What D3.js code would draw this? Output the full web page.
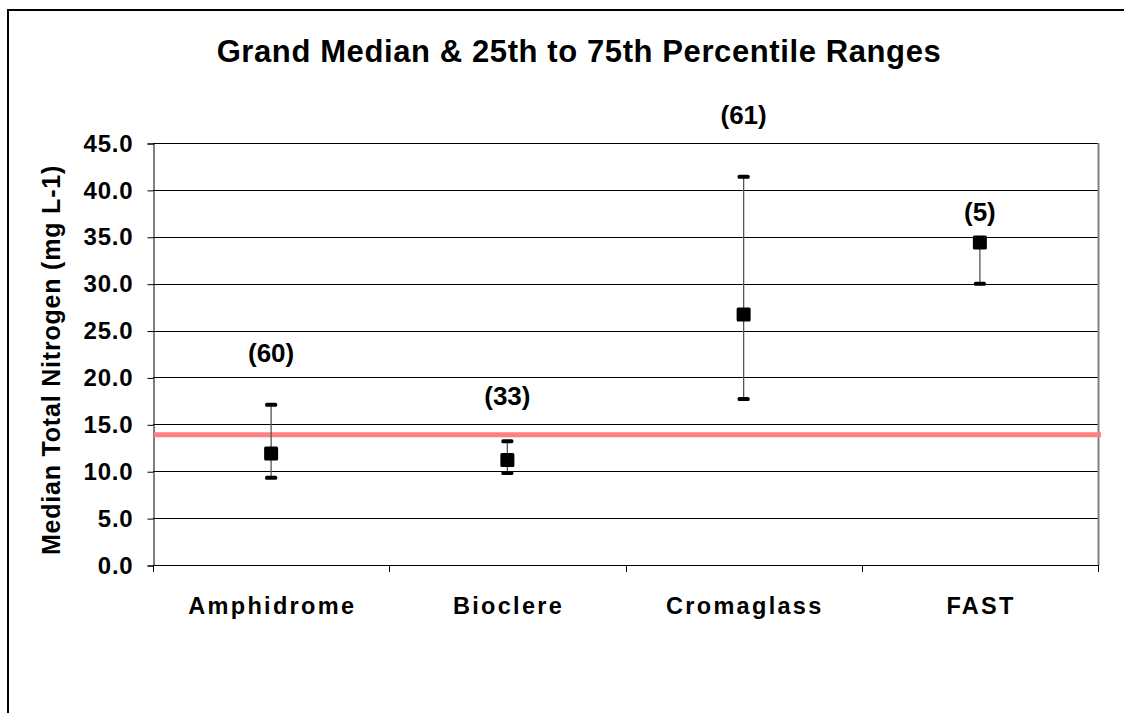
<!DOCTYPE html>
<html>
<head>
<meta charset="utf-8">
<script src="https://cdn.jsdelivr.net/npm/d3@7"></script>
<style>
  body { margin: 0; background: #fff; }
  svg { display: block; font-family: "Liberation Sans", Arial, sans-serif; }
</style>
</head>
<body>
<svg id="chart" width="1124" height="713"></svg>
<script>
// ---- data ----
const categories = ["Amphidrome", "Bioclere", "Cromaglass", "FAST"];
const medians    = [11.9, 11.2, 26.7, 34.4];
const p25        = [9.3, 9.8, 17.7, 30.0];
const p75        = [17.1, 13.2, 41.4, 34.6];
const counts     = ["(60)", "(33)", "(61)", "(5)"];
const countLabelY = [21.7, 17.1, 47.0, 36.7];
const yTicks     = [0, 5, 10, 15, 20, 25, 30, 35, 40, 45];
const referenceLine = 13.9;
const title = "Grand Median & 25th to 75th Percentile Ranges";
const yTitle = "Median Total Nitrogen (mg L-1)";

// ---- layout ----
const W = 1124, H = 713;
const plot = { left: 153, right: 1098, top: 143, bottom: 565 };

const svg = d3.select("#chart");

// chart border
svg.append("rect")
  .attr("x", 8).attr("y", 10)
  .attr("width", W + 20).attr("height", H + 20)
  .attr("fill", "#fff").attr("stroke", "#000").attr("stroke-width", 2);

const x = d3.scaleBand().domain(categories).range([plot.left, plot.right]).padding(0);
const y = d3.scaleLinear().domain([0, 45]).range([plot.bottom, plot.top]);

// gridlines
svg.append("g")
  .selectAll("line").data(yTicks.filter(d => d > 0)).join("line")
  .attr("x1", plot.left).attr("x2", plot.right)
  .attr("y1", d => Math.round(y(d)) + 0.5).attr("y2", d => Math.round(y(d)) + 0.5)
  .attr("stroke", "#000").attr("stroke-width", 1);

// right plot border
svg.append("line")
  .attr("x1", plot.right + 0.5).attr("x2", plot.right + 0.5)
  .attr("y1", plot.top).attr("y2", plot.bottom)
  .attr("stroke", "#808080").attr("stroke-width", 2);

// y axis
const yAxis = d3.axisLeft(y).tickValues(yTicks).tickFormat(d3.format(".1f")).tickSizeOuter(0).tickSize(6).tickPadding(14);
const gy = svg.append("g").attr("transform", `translate(${plot.left + 0.5},0.5)`).call(yAxis);
gy.select(".domain").attr("stroke", "#000");
gy.selectAll(".tick line").attr("stroke", "#000");
gy.selectAll(".tick text")
  .attr("font-size", 24).attr("font-weight", "bold").attr("fill", "#000")
  .attr("letter-spacing", 0.8)
  .attr("font-family", "Liberation Sans, Arial, sans-serif");

// x axis
const boundaries = categories.map(c => x(c)).concat([x(categories[categories.length - 1]) + x.bandwidth()]);
svg.append("line")
  .attr("x1", plot.left).attr("x2", plot.right + 1)
  .attr("y1", plot.bottom + 0.5).attr("y2", plot.bottom + 0.5)
  .attr("stroke", "#000");
svg.append("g").selectAll("line").data(boundaries).join("line")
  .attr("x1", d => Math.round(d) + 0.5).attr("x2", d => Math.round(d) + 0.5)
  .attr("y1", plot.bottom).attr("y2", plot.bottom + 7)
  .attr("stroke", "#000");
svg.append("g").selectAll("text").data(categories).join("text")
  .attr("x", d => x(d) + x.bandwidth() / 2 + 1.2)
  .attr("y", 614)
  .attr("text-anchor", "middle")
  .attr("font-size", 23.5).attr("font-weight", "bold")
  .attr("letter-spacing", 2.3)
  .text(d => d);

// reference line
svg.append("line")
  .attr("x1", plot.left + 1).attr("x2", plot.right + 3)
  .attr("y1", y(referenceLine)).attr("y2", y(referenceLine))
  .attr("stroke", "#ff8080").attr("stroke-width", 5);

// error bars
const data = categories.map((c, i) => ({ c, med: medians[i], lo: p25[i], hi: p75[i], n: counts[i], ly: countLabelY[i] }));
const g = svg.append("g");
g.selectAll("line.err").data(data).join("line").attr("class", "err")
  .attr("x1", d => x(d.c) + x.bandwidth() / 2).attr("x2", d => x(d.c) + x.bandwidth() / 2)
  .attr("y1", d => y(d.lo)).attr("y2", d => y(d.hi))
  .attr("stroke", "#555").attr("stroke-width", 1.3);
const capW = 12, capH = 4;
["lo", "hi"].forEach(k => {
  g.selectAll("rect.cap-" + k).data(data).join("rect").attr("class", "cap-" + k)
    .attr("x", d => x(d.c) + x.bandwidth() / 2 - capW / 2)
    .attr("y", d => y(d[k]) - capH / 2)
    .attr("width", capW).attr("height", capH)
    .attr("rx", 1.5)
    .attr("fill", "#000");
});
const ms = 14;
g.selectAll("rect.marker").data(data).join("rect").attr("class", "marker")
  .attr("x", d => x(d.c) + x.bandwidth() / 2 - ms / 2)
  .attr("y", d => y(d.med) - ms / 2)
  .attr("width", ms).attr("height", ms)
  .attr("rx", 1.5)
  .attr("fill", "#000");

// count labels
g.selectAll("text.n").data(data).join("text").attr("class", "n")
  .attr("x", d => x(d.c) + x.bandwidth() / 2)
  .attr("y", d => y(d.ly))
  .attr("text-anchor", "middle")
  .attr("font-size", 26).attr("font-weight", "bold")
  .text(d => d.n);

// title
svg.append("text")
  .attr("x", 579).attr("y", 62)
  .attr("text-anchor", "middle")
  .attr("font-size", 31).attr("font-weight", "bold")
  .attr("letter-spacing", 0.6)
  .text(title);

// y title
svg.append("text")
  .attr("transform", `translate(60,360) rotate(-90)`)
  .attr("text-anchor", "middle")
  .attr("font-size", 25).attr("font-weight", "bold")
  .attr("letter-spacing", 0.8)
  .text(yTitle);
</script>
</body>
</html>
